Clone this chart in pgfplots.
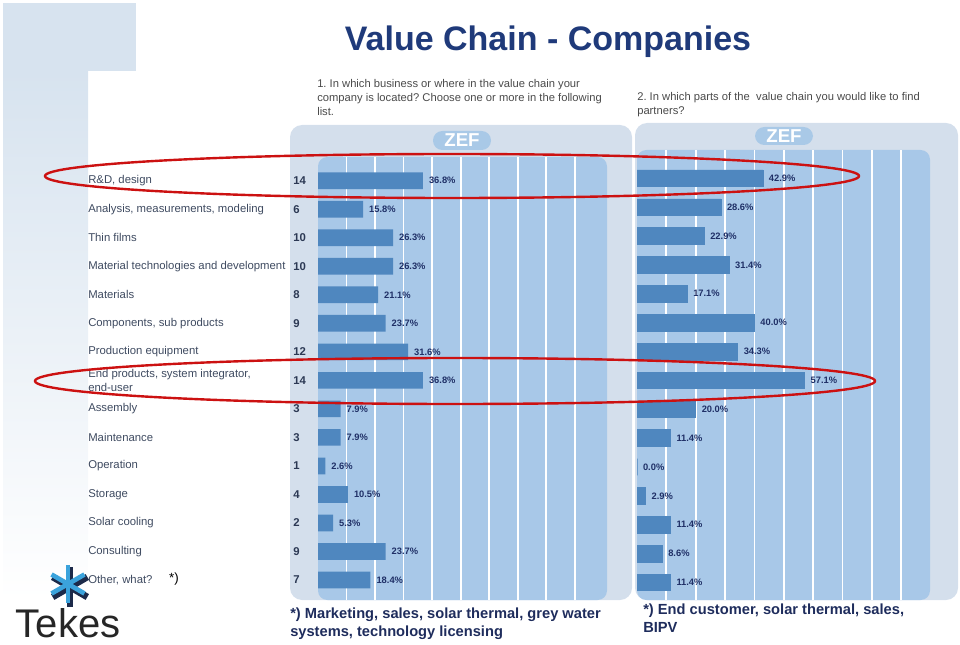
\documentclass[border=0pt]{standalone}
\usepackage{pgfplots}
\pgfplotsset{compat=1.18}
\usepackage{fontspec}
\setmainfont{Liberation Sans}
\frenchspacing
\definecolor{bgblue}{HTML}{D7E3EF}
\definecolor{outerp}{HTML}{D4DFEC}
\definecolor{innerp}{HTML}{A8C8E8}
\definecolor{barblue}{HTML}{4F87BF}
\definecolor{zef}{HTML}{A9C9E7}
\definecolor{titleblue}{HTML}{1F3A7A}
\definecolor{pct}{HTML}{1F2F66}
\definecolor{cat}{HTML}{3E4A60}
\definecolor{cnt}{HTML}{2C3954}
\definecolor{qtext}{HTML}{4A4A4A}
\definecolor{foot}{HTML}{1E2C5C}
\definecolor{ellred}{HTML}{CC1111}
\definecolor{logoblue}{HTML}{3BA3DC}
\definecolor{logodark}{HTML}{1C2A4A}
\newcommand\lab[2]{\parbox[c]{153.75pt}{\raggedright\color{cat}#1}\parbox[c]{20pt}{\bfseries\color{cnt}#2}}
\pgfplotsset{
  panel/.style={
    scale only axis, anchor=south west, y dir=reverse,
    xbar, bar width=12.5pt, clip=false,
    axis line style={draw=none},
    xtick={10,20,...,90}, xticklabel=\empty,
    xmajorgrids, grid style={white, line width=1.3pt},
    major tick length=0pt,
    /pgf/number format/assume math mode=true,
    nodes near coords={\pgfmathprintnumber[fixed,fixed zerofill,precision=1]{\pgfplotspointmeta}\%},
    every node near coord/.append style={font=\bfseries\fontsize{7}{8}\selectfont, color=pct, anchor=west, xshift=1pt},
  }
}
\begin{document}
\begin{tikzpicture}
\begin{scope}[x=0.75pt,y=-0.75pt]
\useasboundingbox (0,0) rectangle (960,645);
\fill[bgblue] (3,3) rectangle (136,71);
\shade[top color=bgblue, bottom color=white] (3,71) rectangle (88,600);
\fill[outerp, rounded corners=9pt] (290,125) rectangle (632,600);
\fill[outerp, rounded corners=9pt] (635,123) rectangle (958,600);
\fill[innerp, rounded corners=7pt] (318,157) rectangle (607,600);
\fill[innerp, rounded corners=7pt] (637,150) rectangle (930,600);
\fill[zef, rounded corners=7pt] (433,131) rectangle (491,150);
\node[white, font=\bfseries\fontsize{14}{14}\selectfont] at (462,140.5) {ZEF};
\fill[zef, rounded corners=7pt] (755,127) rectangle (813,145);
\node[white, font=\bfseries\fontsize{14}{14}\selectfont] at (784,136) {ZEF};
\node[font=\bfseries\fontsize{25.5}{30}\selectfont, text=titleblue] at (548,42) {Value Chain - Companies};
\node[anchor=north west, align=left, inner sep=0pt, font=\fontsize{8.4}{10.5}\selectfont, text=qtext] at (317,79) {1. In which business or where in the value chain your\\company is located? Choose one or more in the following\\list.};
\node[anchor=north west, align=left, inner sep=0pt, font=\fontsize{8.4}{10.5}\selectfont, text=qtext] at (637,92) {2. In which parts of the\ \ value chain you would like to find\\partners?};
\end{scope}

\begin{axis}[panel, at={(238.5pt,-450pt)}, width=216.75pt, height=332.25pt,
  xmin=0, xmax=101.3, ymin=-0.83, ymax=14.70,
  ytick={0,...,14},
  yticklabels={
    {\lab{R\&D, design}{14}},
    {\lab{Analysis, measurements, modeling}{6}},
    {\lab{Thin films}{10}},
    {\lab{Material technologies and development}{10}},
    {\lab{Materials}{8}},
    {\lab{Components, sub products}{9}},
    {\lab{Production equipment}{12}},
    {\lab{End products, system integrator,\\end-user}{14}},
    {\lab{Assembly}{3}},
    {\lab{Maintenance}{3}},
    {\lab{Operation}{1}},
    {\lab{Storage}{4}},
    {\lab{Solar cooling}{2}},
    {\lab{Consulting}{9}},
    {\lab{Other, what?}{7}}},
  yticklabel style={anchor=west, inner sep=0pt, xshift=-172.5pt, font=\fontsize{8.5}{10.5}\selectfont},
]
\addplot[fill=barblue, draw=none, point meta=x] coordinates {
(36.8,0) (15.8,1) (26.3,2) (26.3,3) (21.1,4) (23.7,5) (31.6,6) (36.8,7)
(7.9,8) (7.9,9) (2.6,10) (10.5,11) (5.3,12) (23.7,13) (18.4,14)};
\end{axis}

\begin{axis}[panel, at={(477.75pt,-450pt)}, width=219.75pt, height=337.5pt,
  xmin=0, xmax=99.8, ymin=-0.98, ymax=14.61, ytick=\empty]
\addplot[fill=barblue, draw=barblue, line width=0.4pt, point meta=x] coordinates {
(42.9,0) (28.6,1) (22.9,2) (31.4,3) (17.1,4) (40.0,5) (34.3,6) (57.1,7)
(20.0,8) (11.4,9) (0.0,10) (2.9,11) (11.4,12) (8.6,13) (11.4,14)};
\end{axis}

\begin{scope}[x=0.75pt,y=-0.75pt]
\node[font=\fontsize{10}{10}\selectfont] at (174,579) {*)};
\node[anchor=north west, align=left, inner sep=0pt, font=\bfseries\fontsize{11}{13.5}\selectfont, text=foot] at (290,608) {*) Marketing, sales, solar thermal, grey water\\systems, technology licensing};
\node[anchor=north west, align=left, inner sep=0pt, font=\bfseries\fontsize{11}{13.5}\selectfont, text=foot] at (643,604) {*) End customer, solar thermal, sales,\\BIPV};
% logo
\foreach \a in {90,30,-30} {
  \draw[line width=5pt, logodark] (70,587) ++(\a:20) -- ++(\a+180:40);
}
\foreach \a in {90,30,-30} {
  \draw[line width=3.5pt, logoblue] (68,584) ++(\a:19) -- ++(\a+180:38);
}
\node[anchor=base, inner sep=0pt, font=\fontsize{30}{30}\selectfont, text=black!85] at (68,637) {Tekes};
% ellipses
\draw[ellred, line width=1.8pt] (452,176) ellipse [x radius=407, y radius=22];
\draw[ellred, line width=1.8pt] (455,381) ellipse [x radius=420, y radius=23];
\end{scope}
\end{tikzpicture}
\end{document}
